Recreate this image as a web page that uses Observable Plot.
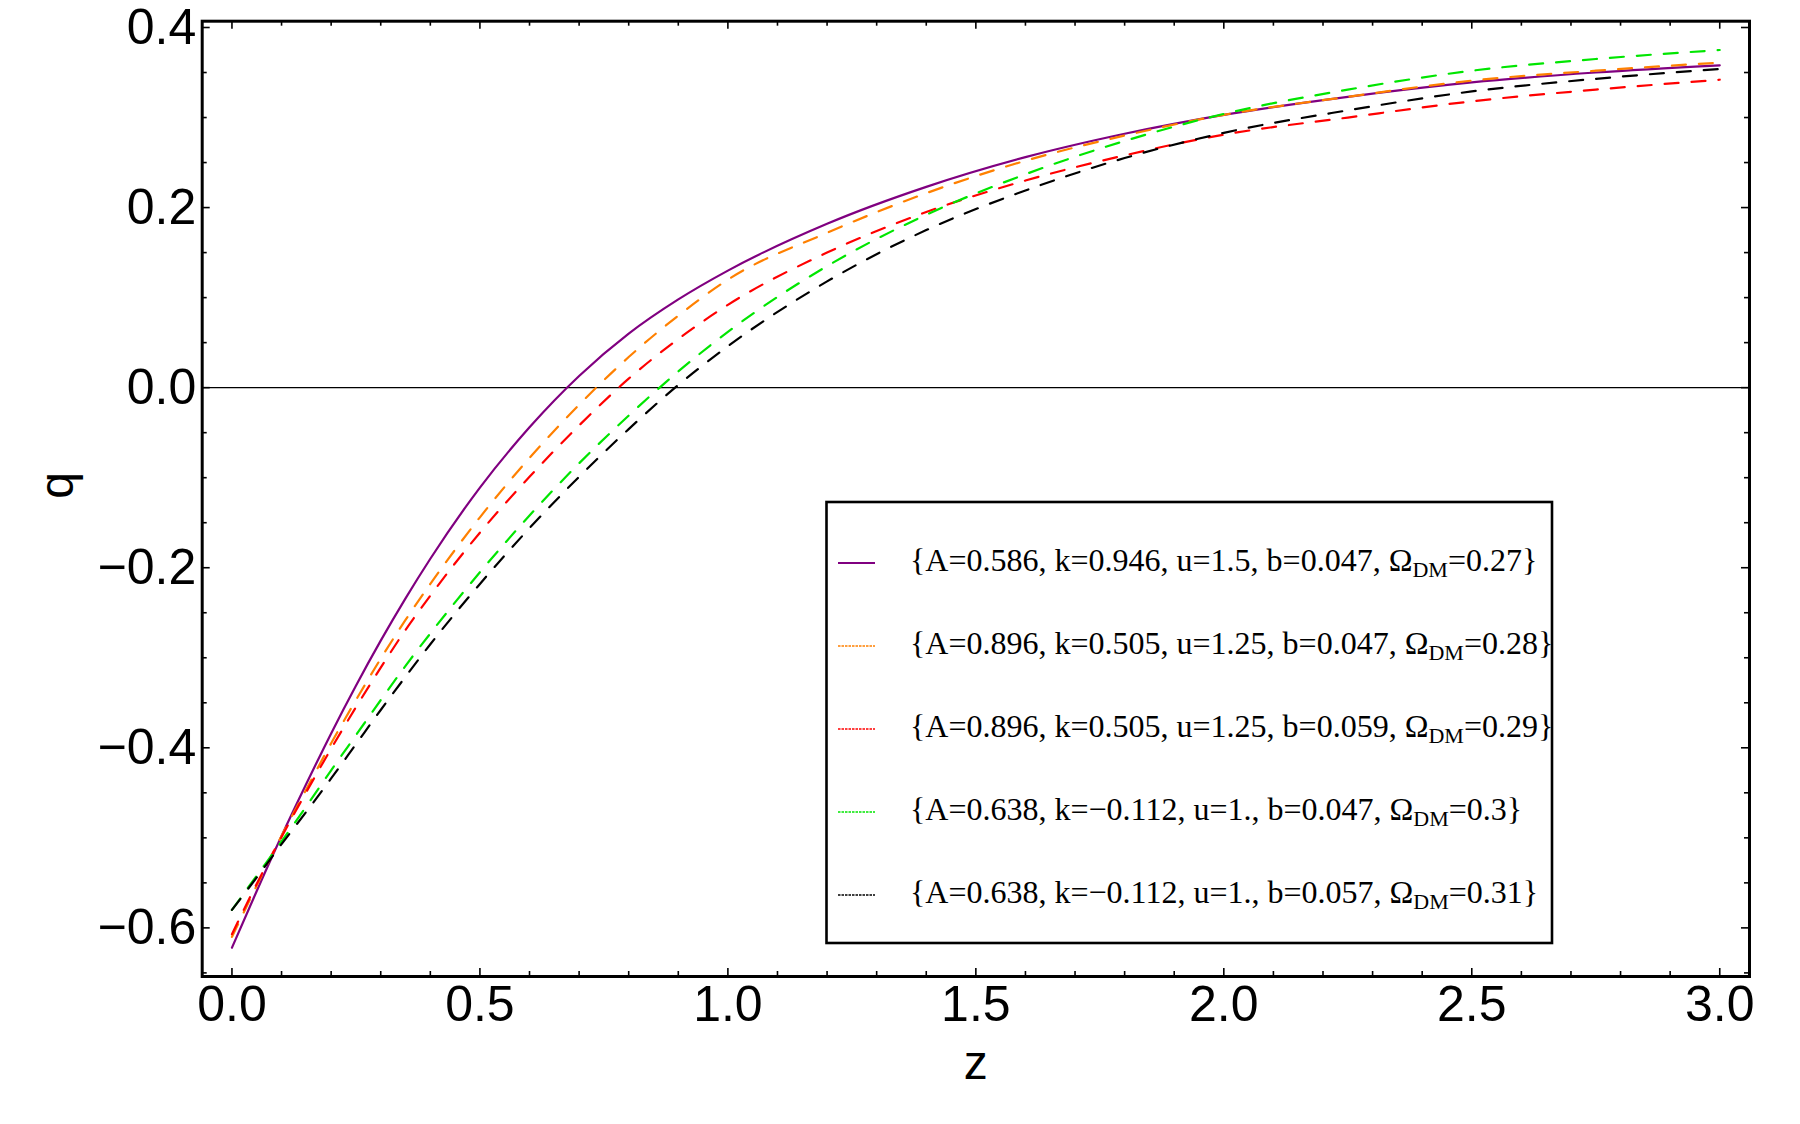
<!DOCTYPE html>
<html>
<head>
<meta charset="utf-8">
<script src="https://cdn.jsdelivr.net/npm/d3@7"></script>
<script src="https://cdn.jsdelivr.net/npm/@observablehq/plot@0.6"></script>
<style>
  html, body { margin: 0; padding: 0; background: #fff; }
  #chart { width: 1800px; height: 1124px; }
</style>
</head>
<body>
<div id="chart"></div>
<script>
// ---- data ----
const zValues = [0, 0.05, 0.1, 0.15, 0.2, 0.25, 0.3, 0.35, 0.4, 0.5, 0.6, 0.7, 0.8, 0.9, 1.0, 1.2, 1.4, 1.6, 1.8, 2.0, 2.25, 2.5, 2.75, 3.0];

const qPurple = [-0.622, -0.559, -0.498, -0.440, -0.384, -0.331, -0.281, -0.234, -0.190, -0.111, -0.044, 0.013, 0.060, 0.098, 0.130, 0.182, 0.223, 0.256, 0.282, 0.303, 0.323, 0.339, 0.350, 0.358];
const qOrange = [-0.610, -0.553, -0.498, -0.446, -0.395, -0.347, -0.301, -0.258, -0.218, -0.144, -0.078, -0.019, 0.034, 0.080, 0.120, 0.172, 0.216, 0.252, 0.280, 0.303, 0.323, 0.341, 0.352, 0.361];
const qRed    = [-0.607, -0.551, -0.499, -0.449, -0.401, -0.355, -0.311, -0.269, -0.231, -0.161, -0.099, -0.042, 0.010, 0.054, 0.092, 0.150, 0.195, 0.230, 0.258, 0.281, 0.300, 0.318, 0.331, 0.342];
const qGreen  = [-0.580, -0.542, -0.504, -0.465, -0.425, -0.386, -0.347, -0.309, -0.273, -0.205, -0.142, -0.084, -0.031, 0.018, 0.062, 0.135, 0.192, 0.237, 0.274, 0.304, 0.331, 0.352, 0.365, 0.375];
const qBlack  = [-0.580, -0.544, -0.507, -0.471, -0.434, -0.396, -0.358, -0.321, -0.285, -0.218, -0.156, -0.099, -0.046, 0.003, 0.046, 0.118, 0.175, 0.219, 0.255, 0.283, 0.308, 0.329, 0.343, 0.354];

const seriesValues = [qPurple, qOrange, qRed, qGreen, qBlack];
const seriesColors = ["#800080", "#ff8000", "#ff0000", "#00e600", "#000000"];
const seriesDashed = [false, true, true, true, true];

const legendMain = [
  "{A=0.586, k=0.946, u=1.5, b=0.047, \u03A9",
  "{A=0.896, k=0.505, u=1.25, b=0.047, \u03A9",
  "{A=0.896, k=0.505, u=1.25, b=0.059, \u03A9",
  "{A=0.638, k=\u22120.112, u=1., b=0.047, \u03A9",
  "{A=0.638, k=\u22120.112, u=1., b=0.057, \u03A9"
];
const legendSub = ["DM", "DM", "DM", "DM", "DM"];
const legendTail = ["=0.27}", "=0.28}", "=0.29}", "=0.3}", "=0.31}"];

const xMajorTicks = [0, 0.5, 1.0, 1.5, 2.0, 2.5, 3.0];
const xMinorTicks = [0.1, 0.2, 0.3, 0.4, 0.6, 0.7, 0.8, 0.9, 1.1, 1.2, 1.3, 1.4, 1.6, 1.7, 1.8, 1.9, 2.1, 2.2, 2.3, 2.4, 2.6, 2.7, 2.8, 2.9];
const yMajorTicks = [-0.6, -0.4, -0.2, 0.0, 0.2, 0.4];
const yMinorTicks = [-0.65, -0.55, -0.5, -0.45, -0.35, -0.3, -0.25, -0.15, -0.1, -0.05, 0.05, 0.1, 0.15, 0.25, 0.3, 0.35];
const xTickLabels = ["0.0", "0.5", "1.0", "1.5", "2.0", "2.5", "3.0"];
const yTickLabels = ["\u22120.6", "\u22120.4", "\u22120.2", "0.0", "0.2", "0.4"];

// ---- layout ----
const W = 1800, H = 1124;
const mLeft = 201.7, mRight = 51, mTop = 20.7, mBottom = 148;
const plotW = W - mLeft - mRight, plotH = H - mTop - mBottom;
const majorLen = 8, minorLen = 5;

const rows = [];
seriesValues.forEach((vals, i) => vals.forEach((q, j) => rows.push({series: i, z: zValues[j], q})));

const lineMarks = seriesValues.map((_, i) => Plot.line(rows.filter(r => r.series === i), {
  x: "z", y: "q", stroke: seriesColors[i], strokeWidth: 2.2,
  strokeDasharray: seriesDashed[i] ? "14,13" : null, curve: "monotone-x"
}));

const chart = Plot.plot({
  width: W, height: H,
  marginLeft: mLeft, marginRight: mRight, marginTop: mTop, marginBottom: mBottom,
  style: {fontFamily: "'Liberation Sans', Arial, Helvetica, sans-serif", fontSize: "50px", background: "white", color: "black"},
  x: {domain: [-0.06, 3.06]},
  y: {domain: [-0.654, 0.407]},
  marks: [
    Plot.ruleY([0], {stroke: "black", strokeWidth: 1.3}),
    ...lineMarks,
    // inward ticks on all four sides
    Plot.ruleX(xMajorTicks, {x: d => d, insetTop: plotH - majorLen, strokeWidth: 1.6}),
    Plot.ruleX(xMinorTicks, {x: d => d, insetTop: plotH - minorLen, strokeWidth: 1.6}),
    Plot.ruleX(xMajorTicks, {x: d => d, insetBottom: plotH - majorLen, strokeWidth: 1.6}),
    Plot.ruleX(xMinorTicks, {x: d => d, insetBottom: plotH - minorLen, strokeWidth: 1.6}),
    Plot.ruleY(yMajorTicks, {y: d => d, insetRight: plotW - majorLen, strokeWidth: 1.6}),
    Plot.ruleY(yMinorTicks, {y: d => d, insetRight: plotW - minorLen, strokeWidth: 1.6}),
    Plot.ruleY(yMajorTicks, {y: d => d, insetLeft: plotW - majorLen, strokeWidth: 1.6}),
    Plot.ruleY(yMinorTicks, {y: d => d, insetLeft: plotW - minorLen, strokeWidth: 1.6}),
    Plot.axisX({anchor: "bottom", ticks: xMajorTicks, tickSize: 0, tickPadding: 9,
      tickFormat: (d, i) => xTickLabels[i], fontSize: 50, label: null}),
    Plot.axisY({anchor: "left", ticks: yMajorTicks, tickSize: 0, tickPadding: 6,
      tickFormat: (d, i) => yTickLabels[i], fontSize: 50, label: null}),
    Plot.frame({stroke: "black", strokeWidth: 3}),
    Plot.text(["z"], {frameAnchor: "bottom", dy: 102, lineAnchor: "bottom", text: d => d, fontSize: 48}),
    Plot.text(["q"], {frameAnchor: "left", dx: -145, rotate: -90, text: d => d, fontSize: 48})
  ]
});

document.getElementById("chart").appendChild(chart);

// ---- legend (inside the plot area, lower right) ----
const svg = d3.select(chart);
const lg = svg.append("g").attr("class", "legend").attr("text-anchor", "start");
lg.append("rect")
  .attr("x", 826.5).attr("y", 502).attr("width", 725.5).attr("height", 441)
  .attr("fill", "white").attr("stroke", "black").attr("stroke-width", 2.6);
const rowY0 = 563, rowStep = 83;
seriesColors.forEach((c, i) => {
  const y = rowY0 + i * rowStep;
  lg.append("line")
    .attr("x1", 838).attr("x2", 875).attr("y1", y).attr("y2", y)
    .attr("stroke", c).attr("stroke-width", seriesDashed[i] ? 1.6 : 2)
    .attr("stroke-dasharray", seriesDashed[i] ? "2.5,1" : null);
  const t = lg.append("text")
    .attr("x", 910).attr("y", y + 8)
    .attr("text-anchor", "start")
    .attr("font-family", "'Liberation Serif', 'Times New Roman', serif")
    .attr("font-size", 32).attr("fill", "black");
  t.append("tspan").text(legendMain[i]);
  t.append("tspan").attr("font-size", 22).attr("dy", 6).text(legendSub[i]);
  t.append("tspan").attr("dy", -6).text(legendTail[i]);
});
</script>
</body>
</html>
